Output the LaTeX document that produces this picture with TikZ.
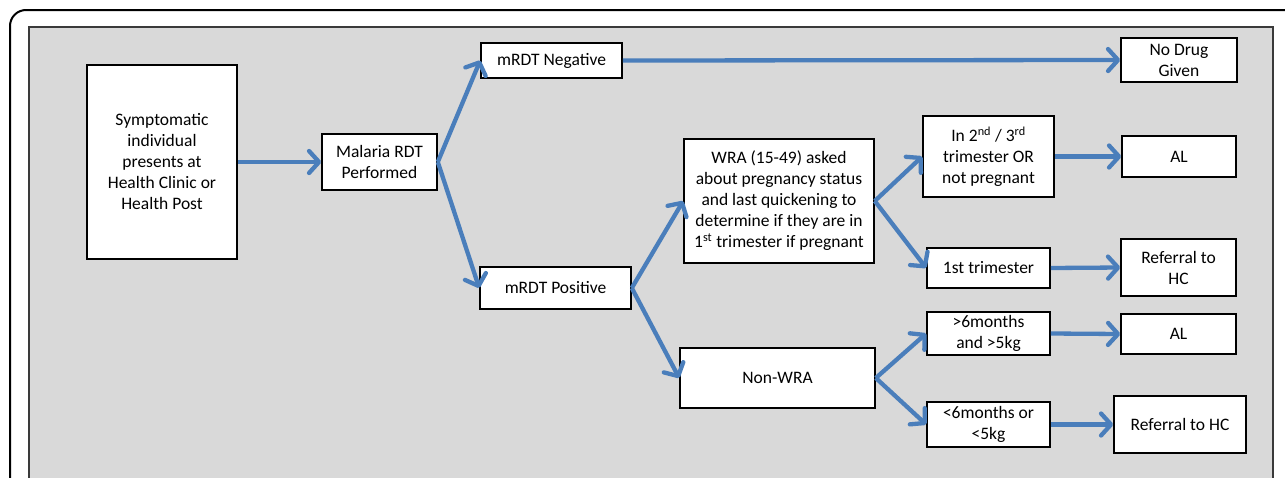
\documentclass[tikz,border=0pt]{standalone}
\usepackage{fontspec}
\setmainfont{Carlito}
\usetikzlibrary{arrows.meta}
\definecolor{flowblue}{HTML}{4A7EBB}
\definecolor{panelgray}{HTML}{D9D9D9}
\definecolor{panelframe}{HTML}{3A3A3A}
\tikzset{
  box/.style={draw=black, line width=1.6pt, fill=white, inner sep=0pt,
    align=center, font=\fontsize{17.5}{21}\selectfont},
  flow/.style={draw=flowblue, line width=4.3pt,
    -{Straight Barb[length=10pt,width=22pt,round]}},
}
\begin{document}
\begin{tikzpicture}[x=1pt,y=-1pt]
\useasboundingbox (0,0) rectangle (1285,477);
\begin{scope}
\clip (0,0) rectangle (1285,477);
% outer frame and grey panel
\draw[line width=2pt, rounded corners=16pt] (10,520) -- (10,10) -- (1320,10);
\draw[line width=2pt, draw=panelframe, fill=panelgray] (29,520) -- (29,27) -- (1273,27) -- (1273,520);
\end{scope}

% boxes
\node[box, minimum width=150pt, minimum height=194pt] (sym) at (162,162)
  {Symptomatic\\individual\\presents at\\Health Clinic or\\Health Post};
\node[box, minimum width=115pt, minimum height=56pt] (rdt) at (379.5,162)
  {Malaria RDT\\Performed};
\node[box, minimum width=141pt, minimum height=35pt] (neg) at (551.5,60.5)
  {mRDT Negative};
\node[box, minimum width=151pt, minimum height=42pt] (pos) at (555.5,288)
  {mRDT Positive};
\node[box, minimum width=190pt, minimum height=124pt] (wra) at (779,201)
  {WRA (15-49) asked\\about pregnancy status\\and last quickening to\\determine if they are in\\1\textsuperscript{st} trimester if pregnant};
\node[box, minimum width=195pt, minimum height=60pt] (nonwra) at (777.5,378)
  {Non-WRA};
\node[box, minimum width=131pt, minimum height=81pt] (tri23) at (988.5,156.5)
  {In 2\textsuperscript{nd} / 3\textsuperscript{rd}\\trimester OR\\not pregnant};
\node[box, minimum width=123pt, minimum height=40pt] (tri1) at (988.5,268)
  {1st trimester};
\node[box, minimum width=123pt, minimum height=43pt] (gt6) at (988.5,333.5)
  {>6months\\and >5kg};
\node[box, minimum width=123pt, minimum height=45pt] (lt6) at (988.5,424.5)
  {<6months or\\<5kg};
\node[box, minimum width=116pt, minimum height=44pt] (nodrug) at (1179,60)
  {No Drug\\Given};
\node[box, minimum width=114pt, minimum height=41pt] (al1) at (1179,156.5)
  {AL};
\node[box, minimum width=115pt, minimum height=57pt] (ref1) at (1178.5,267.5)
  {Referral to\\HC};
\node[box, minimum width=115pt, minimum height=40pt] (al2) at (1178.5,334)
  {AL};
\node[box, minimum width=132pt, minimum height=57pt] (ref2) at (1180,424.5)
  {Referral to HC};

% connectors
\draw[flow] (sym.east) -- (rdt.west);
\draw[flow] (rdt.east) -- (neg.west);
\draw[flow] (rdt.east) -- (pos.west);
\draw[flow] (neg.east) -- (nodrug.west);
\draw[flow] (pos.east) -- (wra.west);
\draw[flow] (pos.east) -- (nonwra.west);
\draw[flow] (wra.east) -- (tri23.west);
\draw[flow] (wra.east) -- (tri1.west);
\draw[flow] (nonwra.east) -- (gt6.west);
\draw[flow] (nonwra.east) -- (lt6.west);
\draw[flow] (tri23.east) -- (al1.west);
\draw[flow] (tri1.east) -- (ref1.west);
\draw[flow] (gt6.east) -- (al2.west);
\draw[flow] (lt6.east) -- (ref2.west);
\end{tikzpicture}
\end{document}
